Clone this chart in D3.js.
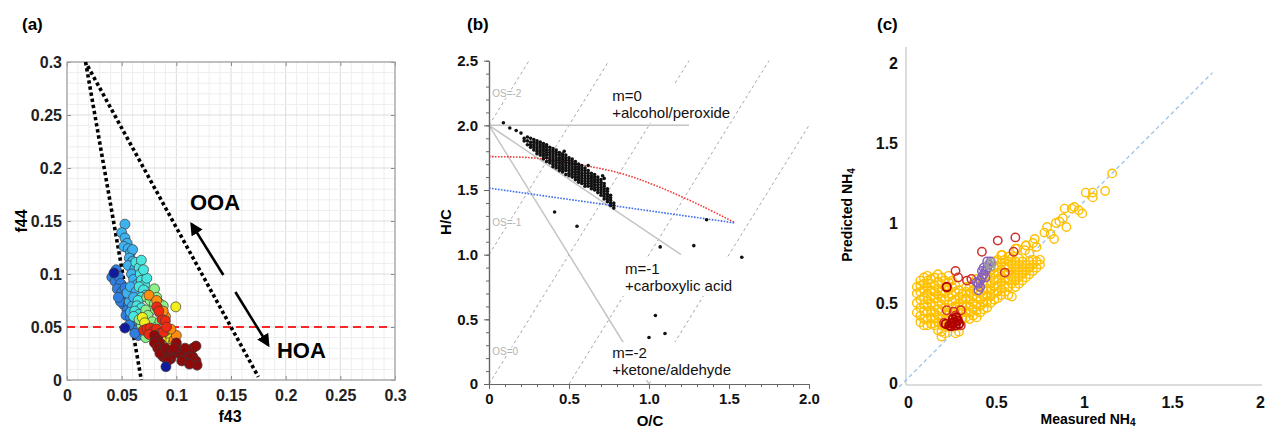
<!DOCTYPE html>
<html>
<head>
<meta charset="utf-8">
<script src="https://cdn.jsdelivr.net/npm/d3@7"></script>
<style>
  body { margin: 0; background: #fff; }
  svg { font-family: "Liberation Sans", Arial, sans-serif; display: block; }
  .bold { font-weight: bold; }
</style>
</head>
<body>
<svg id="fig" width="1276" height="428"></svg>
<script>
// ---------------- panel (a) data: f44 vs f43 ----------------
var aTicks = [0, 0.05, 0.1, 0.15, 0.2, 0.25, 0.3];
var aNavy = [[.043,.101],[.053,.049],[.0905,.0125]];
var aBlue = [[.041,.097],[.045,.104],[.044,.093],[.047,.098],[.049,.091],[.046,.086],[.05,.083],[.052,.079],[.053,.087],[.055,.076],[.052,.071],[.049,.074],[.047,.078],[.056,.071],[.058,.066],[.055,.066],[.054,.061],[.058,.059],[.06,.063],[.062,.056],[.06,.051],[.063,.047],[.065,.042],[.062,.044],[.057,.052]];
var aSky = [[.053,.147],[.05,.139],[.053,.134],[.055,.129],[.052,.126],[.056,.124],[.058,.12],[.06,.123],[.057,.115],[.06,.112],[.056,.108],[.062,.105],[.059,.1],[.061,.095],[.064,.09],[.057,.074],[.06,.07],[.058,.064],[.055,.082],[.058,.088],[.063,.083],[.061,.078]];
var aCyan = [[.063,.111],[.066,.106],[.067,.1],[.068,.113],[.068,.094],[.071,.09],[.066,.088],[.07,.085],[.072,.08],[.068,.078],[.065,.075],[.064,.07],[.068,.068],[.062,.065],[.066,.062],[.061,.06],[.07,.06],[.072,.055],[.075,.052],[.074,.045],[.078,.041],[.076,.047],[.073,.096],[.07,.104]];
var aGreen = [[.073,.078],[.076,.075],[.078,.081],[.08,.086],[.082,.078],[.085,.072],[.088,.07],[.08,.072],[.076,.065],[.072,.066],[.07,.058],[.074,.061],[.078,.055],[.082,.05],[.085,.055],[.087,.048],[.072,.04],[.068,.052],[.066,.057]];
var aYellow = [[.069,.059],[.071,.054],[.083,.045],[.088,.043],[.09,.04],[.093,.045],[.095,.04],[.092,.035],[.097,.035],[.0995,.069],[.1,.03],[.086,.038]];
var aOrange = [[.075,.08],[.082,.075],[.085,.063],[.09,.06],[.083,.068],[.088,.065],[.09,.046],[.087,.033],[.093,.03],[.098,.038],[.1,.042],[.095,.048],[.078,.044]];
var aRed = [[.082,.069],[.087,.057],[.084,.065],[.09,.056],[.07,.047],[.073,.048],[.076,.049],[.079,.046],[.082,.048],[.085,.044],[.075,.043],[.081,.04],[.088,.045],[.091,.05]];
var aMaroon = [[.08,.042],[.083,.038],[.085,.035],[.08,.035],[.083,.03],[.087,.028],[.09,.025],[.093,.022],[.088,.022],[.085,.025],[.09,.03],[.095,.027],[.098,.025],[.1,.028],[.103,.025],[.106,.023],[.11,.02],[.112,.025],[.115,.022],[.118,.018],[.119,.014],[.115,.03],[.118,.032],[.108,.03],[.1,.035],[.105,.018],[.112,.015],[.095,.02],[.098,.03],[.092,.018]];
var aGroups = [aBlue, aSky, aCyan, aGreen, aYellow, aOrange, aRed, aMaroon, aNavy];
var aGroupColors = ["#2f7fe2", "#3cb2f0", "#48e6e0", "#8ef08a", "#f2ee1c", "#ff8e10", "#f02a10", "#8e0a0a", "#101c9c"];
var aTriangle = [[[.017, .30], [.068, 0]], [[.019, .296], [.175, .003]]];
var aLimit = 0.05;
var aArrows = [[[.143, .099], [.114, .147]], [[.154, .083], [.184, .033]]];

// ---------------- panel (b) data: Van Krevelen ----------------
var bYTicks = [0, 0.5, 1, 1.5, 2, 2.5];
var bXTicks = [0, 0.5, 1, 1.5, 2];
var bClusterCols = [
  [0.22, [1.90, 1.88]],
  [0.24, [1.91, 1.88, 1.85]],
  [0.26, [1.90, 1.87, 1.85, 1.83]],
  [0.28, [1.89, 1.87, 1.85, 1.83, 1.81]],
  [0.30, [1.88, 1.86, 1.84, 1.82, 1.80, 1.78]],
  [0.32, [1.87, 1.85, 1.83, 1.81, 1.79, 1.77]],
  [0.34, [1.86, 1.84, 1.82, 1.80, 1.78, 1.76, 1.74]],
  [0.36, [1.85, 1.83, 1.81, 1.79, 1.77, 1.75, 1.72]],
  [0.38, [1.83, 1.81, 1.79, 1.77, 1.75, 1.73, 1.71]],
  [0.40, [1.82, 1.80, 1.78, 1.76, 1.74, 1.72, 1.70, 1.68]],
  [0.42, [1.81, 1.79, 1.77, 1.75, 1.73, 1.71, 1.69, 1.67]],
  [0.44, [1.79, 1.77, 1.75, 1.73, 1.71, 1.69, 1.67, 1.65]],
  [0.46, [1.78, 1.76, 1.74, 1.72, 1.70, 1.68, 1.66, 1.64]],
  [0.48, [1.77, 1.75, 1.73, 1.71, 1.69, 1.67, 1.65, 1.62]],
  [0.50, [1.75, 1.73, 1.71, 1.69, 1.67, 1.65, 1.63, 1.61]],
  [0.52, [1.74, 1.72, 1.70, 1.68, 1.66, 1.64, 1.62, 1.60]],
  [0.54, [1.72, 1.70, 1.68, 1.66, 1.64, 1.62, 1.60, 1.58]],
  [0.56, [1.70, 1.68, 1.66, 1.64, 1.62, 1.60, 1.58, 1.56]],
  [0.58, [1.69, 1.67, 1.65, 1.63, 1.61, 1.59, 1.57, 1.55]],
  [0.60, [1.67, 1.65, 1.63, 1.61, 1.59, 1.57, 1.55, 1.53]],
  [0.62, [1.65, 1.63, 1.61, 1.59, 1.57, 1.55, 1.53]],
  [0.64, [1.63, 1.61, 1.59, 1.57, 1.55, 1.53, 1.51]],
  [0.66, [1.62, 1.60, 1.58, 1.56, 1.54, 1.52, 1.50]],
  [0.68, [1.60, 1.58, 1.56, 1.54, 1.52, 1.50, 1.48]],
  [0.70, [1.58, 1.56, 1.54, 1.52, 1.50, 1.48, 1.46]],
  [0.72, [1.55, 1.53, 1.51, 1.49, 1.47, 1.45, 1.43]],
  [0.74, [1.51, 1.49, 1.47, 1.45, 1.43, 1.41]],
  [0.76, [1.46, 1.44, 1.42, 1.40, 1.38]],
  [0.78, [1.40, 1.38, 1.36]]
];
var bOutliers = [[.09,2.02],[.13,1.98],[.17,1.96],[.20,1.94],[.41,1.33],[.55,1.22],[1.07,1.06],[1.28,1.07],[1.58,0.98],[1.04,0.53],[1.0,0.36],[1.1,0.39],[1.36,1.27],[.71,1.61],[.72,1.59],[.47,1.80],[.62,1.69]];
var bRedCurve = [[0, 1.758], [0.256, 1.75], [0.5, 1.71], [0.82, 1.63], [1.07, 1.52], [1.34, 1.37], [1.54, 1.245]];
var bBlueLine = [[0, 1.515], [1.54, 1.245]];
var bOSLines = [[[0, 2], [0.25, 2.5]], [[0, 1], [0.75, 2.5]], [[0, 0], [1.25, 2.5]], [[0.5, 0], [1.75, 2.5]], [[1.0, 0], [2.0, 2.0]]];
var bOSLabels = [["OS=-2", 0.02, 2.25], ["OS=-1", 0.02, 1.25], ["OS=0", 0.02, 0.25]];
var bSlopeLines = [[[0, 2], [1.25, 2]], [[0, 2], [1.2, 1.0]], [[0, 2], [1.0, 0]]];
var bNotes = [
  ["m=0", "+alcohol/peroxide", 0.77, 2.19],
  ["m=-1", "+carboxylic acid", 0.85, 0.85],
  ["m=-2", "+ketone/aldehyde", 0.77, 0.20]
];

// ---------------- panel (c) data: predicted vs measured NH4 ----------------
var cTicks = [0, 0.5, 1, 1.5, 2];
var cYellowCols = [
  [0.05, [.44, .50, .56, .60]],
  [0.07, [.38, .42, .47, .52, .57, .61, .64]],
  [0.09, [.36, .40, .45, .49, .54, .58, .62, .66]],
  [0.11, [.36, .40, .44, .48, .52, .56, .60, .64, .67]],
  [0.13, [.37, .41, .45, .50, .54, .58, .62, .65]],
  [0.15, [.36, .40, .44, .48, .53, .57, .61, .66]],
  [0.17, [.33, .38, .42, .46, .51, .55, .59, .63, .68]],
  [0.19, [.29, .32, .36, .40, .45, .49, .53, .57, .62, .66]],
  [0.21, [.31, .35, .39, .43, .47, .52, .56, .60, .64]],
  [0.23, [.36, .40, .44, .49, .54, .58, .63, .67]],
  [0.25, [.38, .42, .47, .51, .55, .60, .64]],
  [0.27, [.44, .48, .52, .57, .61, .31]],
  [0.29, [.46, .50, .54, .58, .32]],
  [0.31, [.40, .44, .48, .52, .56]],
  [0.33, [.41, .45, .49, .53, .57, .60]],
  [0.35, [.40, .44, .48, .52, .56, .60]],
  [0.37, [.42, .46, .50, .54, .58, .62]],
  [0.39, [.41, .45, .49, .53, .57, .61, .65]],
  [0.41, [.44, .48, .52, .56, .60, .64]],
  [0.43, [.46, .50, .54, .58, .62, .66]],
  [0.45, [.47, .51, .55, .59, .63, .67, .71]],
  [0.47, [.50, .54, .58, .62, .66, .70]],
  [0.49, [.52, .56, .60, .64, .68, .72, .76]],
  [0.51, [.53, .57, .61, .65, .69, .73, .77]],
  [0.53, [.55, .59, .63, .67, .71, .75, .80]],
  [0.55, [.57, .61, .65, .69, .73, .77]],
  [0.57, [.55, .60, .64, .68, .72, .76, .79]],
  [0.59, [.54, .62, .66, .70, .74, .78]],
  [0.61, [.60, .64, .68, .72, .76, .84]],
  [0.63, [.62, .66, .70, .74, .78]],
  [0.65, [.64, .68, .72, .76]],
  [0.67, [.66, .70, .74, .86]],
  [0.69, [.68, .72, .76, .81]],
  [0.71, [.70, .74, .77, .875]],
  [0.73, [.72, .76, .85]],
  [0.75, [.74, .77]]
];
var cYellowTail = [[.775,.94],[.79,.975],[.81,.93],[.83,.90],[.84,1.0],[.86,1.01],[.88,1.03],[.90,.975],[.72,.90],[.67,.86],[.665,.83],[.62,.84],[.535,.80],[.575,.79],[.89,1.09],[.93,1.09],[.945,1.10],[.97,1.08],[.99,1.06],[1.01,1.19],[1.05,1.19],[1.05,1.16],[1.12,1.20],[1.16,1.31]];
var cRed = [[.51,.89],[.61,.91],[.42,.82],[.60,.82],[.27,.70],[.285,.66],[.335,.64],[.36,.65],[.55,.69],[.22,.455],[.26,.445],[.30,.455],[.27,.42],[.205,.375],[.245,.37],[.285,.39],[.30,.36]];
var cDarkRed = [[.22,.60],[.215,.37],[.235,.36],[.25,.375],[.265,.38],[.28,.39],[.245,.355],[.27,.36],[.255,.40],[.275,.41],[.29,.37]];
var cPurple = [[.40,.62],[.41,.64],[.42,.66],[.43,.68],[.44,.70],[.45,.72],[.46,.74],[.47,.76],[.45,.76],[.43,.72],[.42,.70],[.39,.63],[.41,.60],[.44,.66],[.40,.58]];
var cGray = [[.46,.745],[.47,.73],[.475,.75]];
var cRefLine = [[-0.05, -0.025], [1.73, 1.94]];

var svg = d3.select("#fig");
var flatCols = cols => cols.reduce((acc, c) => acc.concat(c[1].map(v => [c[0], v])), []);

// ================= panel (a) =================
var xa = d3.scaleLinear().domain([0, 0.3]).range([67, 395]);
var ya = d3.scaleLinear().domain([0, 0.3]).range([380, 62]);
var ga = svg.append("g");

ga.append("g").selectAll("line").data(xa.ticks(30)).join("line")
  .attr("x1", d => xa(d)).attr("x2", d => xa(d)).attr("y1", ya(0)).attr("y2", ya(0.3))
  .attr("stroke", d => aTicks.some(t => Math.abs(t - d) < 1e-9) ? "#dcdcdc" : "#eeeeee");
ga.append("g").selectAll("line").data(ya.ticks(30)).join("line")
  .attr("y1", d => ya(d)).attr("y2", d => ya(d)).attr("x1", xa(0)).attr("x2", xa(0.3))
  .attr("stroke", d => aTicks.some(t => Math.abs(t - d) < 1e-9) ? "#dcdcdc" : "#eeeeee");

var fmtA = d => d === 0 ? "0" : d3.format("~g")(d);
var styleA = g => {
  g.select(".domain").remove();
  g.selectAll(".tick line").attr("stroke", "#8a8a8a");
  g.selectAll("text").attr("font-size", 16).attr("font-weight", "bold").attr("fill", "#222").attr("font-family", null);
};
ga.append("g").attr("transform", `translate(0,${ya(0)})`)
  .call(d3.axisBottom(xa).tickValues(aTicks).tickSize(-4).tickPadding(10).tickFormat(fmtA)).call(styleA);
ga.append("g").attr("transform", `translate(0,${ya(0.3)})`)
  .call(d3.axisTop(xa).tickValues(aTicks).tickSize(-4).tickFormat("")).call(styleA);
ga.append("g").attr("transform", `translate(${xa(0)},0)`)
  .call(d3.axisLeft(ya).tickValues(aTicks).tickSize(-4).tickPadding(5).tickFormat(fmtA)).call(styleA);
ga.append("g").attr("transform", `translate(${xa(0.3)},0)`)
  .call(d3.axisRight(ya).tickValues(aTicks).tickSize(-4).tickFormat("")).call(styleA);
ga.append("rect").attr("x", xa(0)).attr("y", ya(0.3)).attr("width", xa(0.3) - xa(0)).attr("height", ya(0) - ya(0.3))
  .attr("fill", "none").attr("stroke", "#a6a6a6").attr("stroke-width", 1.3);

// red dashed limit
ga.append("line").attr("x1", xa(0)).attr("x2", xa(0.297)).attr("y1", ya(aLimit)).attr("y2", ya(aLimit))
  .attr("stroke", "#f4282a").attr("stroke-width", 2).attr("stroke-dasharray", "8,5");

// triangle
ga.append("g").selectAll("line").data(aTriangle).join("line")
  .attr("x1", d => xa(d[0][0])).attr("y1", d => ya(d[0][1]))
  .attr("x2", d => xa(d[1][0])).attr("y2", d => ya(d[1][1]))
  .attr("stroke", "#000").attr("stroke-width", 3.6).attr("stroke-dasharray", "3.4,2.8");

// scatter points
aGroups.forEach(function(pts, i) {
  ga.append("g").selectAll("circle").data(pts).join("circle")
    .attr("cx", d => xa(d[0])).attr("cy", d => ya(d[1])).attr("r", 5)
    .attr("fill", aGroupColors[i]).attr("stroke", "#3a3a3a").attr("stroke-width", 0.7);
});

// arrows
svg.append("defs").append("marker").attr("id", "ahead").attr("viewBox", "0 0 10 10")
  .attr("refX", 8).attr("refY", 5).attr("markerWidth", 5).attr("markerHeight", 5)
  .attr("orient", "auto").attr("markerUnits", "strokeWidth")
  .append("path").attr("d", "M0,0 L10,5 L0,10 Z").attr("fill", "#000");
ga.append("g").selectAll("line").data(aArrows).join("line")
  .attr("x1", d => xa(d[0][0])).attr("y1", d => ya(d[0][1]))
  .attr("x2", d => xa(d[1][0])).attr("y2", d => ya(d[1][1]))
  .attr("stroke", "#000").attr("stroke-width", 2.6).attr("marker-end", "url(#ahead)");

ga.append("text").attr("x", xa(0.1125)).attr("y", ya(0.160)).attr("class", "bold").attr("font-size", 22).text("OOA");
ga.append("text").attr("x", xa(0.192)).attr("y", ya(0.021)).attr("class", "bold").attr("font-size", 22).text("HOA");
ga.append("text").attr("x", (xa(0) + xa(0.3)) / 2 - 1).attr("y", 422).attr("text-anchor", "middle").attr("class", "bold").attr("font-size", 16).text("f43");
ga.append("text").attr("transform", `translate(27,${(ya(0) + ya(0.3)) / 2}) rotate(-90)`).attr("text-anchor", "middle").attr("class", "bold").attr("font-size", 16).text("f44");
ga.append("text").attr("x", 22).attr("y", 30).attr("class", "bold").attr("font-size", 17).text("(a)");

// ================= panel (b) =================
var xb = d3.scaleLinear().domain([0, 2]).range([489, 809]);
var yb = d3.scaleLinear().domain([0, 2.5]).range([384, 60.7]);
var gb = svg.append("g");
var lineB = d3.line().x(d => xb(d[0])).y(d => yb(d[1]));

gb.append("g").selectAll("path").data(bOSLines).join("path")
  .attr("d", lineB).attr("fill", "none").attr("stroke", "#a8a8a8").attr("stroke-width", 1).attr("stroke-dasharray", "3,3");
gb.append("g").selectAll("path").data(bSlopeLines).join("path")
  .attr("d", lineB).attr("fill", "none").attr("stroke", "#c4c4c4").attr("stroke-width", 1.5);
gb.append("path").attr("d", d3.line().x(d => xb(d[0])).y(d => yb(d[1])).curve(d3.curveCatmullRom)(bRedCurve))
  .attr("fill", "none").attr("stroke", "#f03c3c").attr("stroke-width", 1.6).attr("stroke-dasharray", "1.6,1.4");
gb.append("path").attr("d", lineB(bBlueLine))
  .attr("fill", "none").attr("stroke", "#3c6cf0").attr("stroke-width", 1.6).attr("stroke-dasharray", "1.6,1.4");

gb.append("g").selectAll("circle").data(flatCols(bClusterCols).concat(bOutliers)).join("circle")
  .attr("cx", d => xb(d[0])).attr("cy", d => yb(d[1])).attr("r", 1.8).attr("fill", "#111");

gb.append("g").selectAll("text").data(bOSLabels).join("text")
  .attr("x", d => xb(d[1])).attr("y", d => yb(d[2])).attr("dy", "0.35em")
  .attr("font-size", 10).attr("fill", "#b4b4b4").attr("stroke", "#fff").attr("stroke-width", 3)
  .attr("paint-order", "stroke").text(d => d[0]);

bNotes.forEach(function(n) {
  var g = gb.append("g");
  var t = g.append("text").attr("x", xb(n[2])).attr("y", yb(n[3])).attr("font-size", 15).attr("fill", "#111");
  t.append("tspan").attr("x", xb(n[2])).text(n[0]);
  t.append("tspan").attr("x", xb(n[2])).attr("dy", 17).text(n[1]);
  var bb = t.node().getBBox();
  g.insert("rect", "text").attr("x", bb.x - 3).attr("y", bb.y - 2).attr("width", bb.width + 3).attr("height", bb.height + 4).attr("fill", "#fff");
});

var styleB = g => {
  g.select(".domain").attr("stroke", "#666").attr("stroke-width", 1.2);
  g.selectAll(".tick line").attr("stroke", "#666");
  g.selectAll("text").attr("font-size", 15).attr("font-weight", "bold").attr("fill", "#111").attr("font-family", null);
};
var fmtB = d => d === 0 ? "0" : d3.format(".1f")(d);
gb.append("g").attr("transform", `translate(${xb(0)},0)`)
  .call(d3.axisLeft(yb).tickValues(yb.ticks(25)).tickSize(3).tickSizeOuter(0).tickFormat("")).call(styleB);
gb.append("g").attr("transform", `translate(${xb(0)},0)`)
  .call(d3.axisLeft(yb).tickValues(bYTicks).tickSize(5).tickSizeOuter(0).tickPadding(6).tickFormat(fmtB)).call(styleB);
gb.append("g").attr("transform", `translate(0,${yb(0)})`)
  .call(d3.axisBottom(xb).tickValues(xb.ticks(20)).tickSize(3).tickSizeOuter(0).tickFormat("")).call(styleB);
gb.append("g").attr("transform", `translate(0,${yb(0)})`)
  .call(d3.axisBottom(xb).tickValues(bXTicks).tickSize(5).tickSizeOuter(0).tickPadding(4).tickFormat(fmtB)).call(styleB);

gb.append("text").attr("x", 650).attr("y", 426).attr("text-anchor", "middle").attr("class", "bold").attr("font-size", 15).text("O/C");
gb.append("text").attr("transform", `translate(451,222) rotate(-90)`).attr("text-anchor", "middle").attr("class", "bold").attr("font-size", 15).text("H/C");
gb.append("text").attr("x", 467).attr("y", 30).attr("class", "bold").attr("font-size", 17).text("(b)");

// ================= panel (c) =================
var xc = d3.scaleLinear().domain([0, 2]).range([908, 1260]);
var yc = d3.scaleLinear().domain([0, 2]).range([383, 63]);
var gc = svg.append("g");

gc.append("line").attr("x1", xc(0) - 2).attr("x2", xc(0) - 2).attr("y1", yc(0) + 2).attr("y2", yc(2.1))
  .attr("stroke", "#d0d0d0").attr("stroke-width", 1.5);
gc.append("line").attr("x1", xc(0) - 2).attr("x2", xc(2) + 2).attr("y1", yc(0) + 2).attr("y2", yc(0) + 2)
  .attr("stroke", "#d0d0d0").attr("stroke-width", 1.5);

var styleC = g => {
  g.select(".domain").remove();
  g.selectAll("text").attr("font-size", 16).attr("font-weight", "bold").attr("fill", "#111").attr("font-family", null);
};
gc.append("g").attr("transform", `translate(${xc(0) - 2},0)`)
  .call(d3.axisLeft(yc).tickValues(cTicks).tickSize(0).tickPadding(8).tickFormat(d3.format("~g"))).call(styleC);
gc.append("g").attr("transform", `translate(0,${yc(0) + 2})`)
  .call(d3.axisBottom(xc).tickValues(cTicks).tickSize(0).tickPadding(12).tickFormat(d3.format("~g"))).call(styleC);

gc.append("path").attr("d", d3.line().x(d => xc(d[0])).y(d => yc(d[1]))(cRefLine))
  .attr("stroke", "#9cc2e6").attr("stroke-width", 1.3).attr("stroke-dasharray", "4,3").attr("fill", "none");

var ring = function(data, color, width) {
  gc.append("g").selectAll("circle").data(data).join("circle")
    .attr("cx", d => xc(d[0])).attr("cy", d => yc(d[1])).attr("r", 4.2)
    .attr("fill", "none").attr("stroke", color).attr("stroke-width", width);
};
ring(flatCols(cYellowCols).concat(cYellowTail), "#ffc000", 1.4);
ring(cRed, "#d0302c", 1.5);
ring(cDarkRed, "#b00000", 1.9);
ring(cPurple, "#8560c0", 1.5);
ring(cGray, "#a0a0a0", 1.5);

var xl = gc.append("text").attr("x", 1088).attr("y", 424).attr("text-anchor", "middle").attr("class", "bold").attr("font-size", 14);
xl.append("tspan").text("Measured NH");
xl.append("tspan").attr("font-size", 10).attr("dy", 2).text("4");
var yl = gc.append("text").attr("transform", `translate(852,${yc(1) - 8}) rotate(-90)`).attr("text-anchor", "middle").attr("class", "bold").attr("font-size", 14);
yl.append("tspan").text("Predicted NH");
yl.append("tspan").attr("font-size", 10).attr("dy", 3).text("4");
gc.append("text").attr("x", 877).attr("y", 30).attr("class", "bold").attr("font-size", 17).text("(c)");
</script>
</body>
</html>
